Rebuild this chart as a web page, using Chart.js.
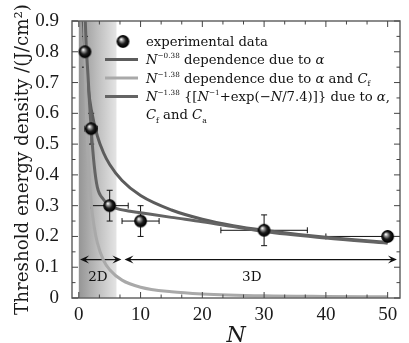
<!DOCTYPE html>
<html>
<head>
<meta charset="utf-8">
<script src="https://cdn.jsdelivr.net/npm/chart.js@4.4.1/dist/chart.umd.min.js"></script>
<style>
  html, body { margin: 0; padding: 0; background: #fff; }
</style>
</head>
<body>
<canvas id="c" width="409" height="343"></canvas>
<script>
// experimental points (N, threshold fluence J/cm2) and their error bars
var expN    = [1, 2, 5, 10, 30, 50];
var expF    = [0.80, 0.55, 0.30, 0.25, 0.22, 0.20];
var expErrN = [0, 1, 3, 3, 7, 10];
var expErrF = [0.05, 0.05, 0.05, 0.05, 0.05, 0];

// N^-0.38 curve
var fitAN = [0.73, 1, 1.5, 2, 3, 4, 5, 7, 10, 15, 20, 25, 30, 40, 50];
var fitAF = [0.90, 0.80, 0.686, 0.614, 0.527, 0.472, 0.434, 0.382, 0.333, 0.286, 0.256, 0.235, 0.220, 0.197, 0.181];

// N^-1.38 curve
var fitBN = [0.92, 1, 1.25, 1.5, 2, 2.5, 3, 4, 5, 7, 10, 15, 20, 30, 40, 50];
var fitBF = [0.90, 0.80, 0.59, 0.46, 0.31, 0.23, 0.18, 0.122, 0.092, 0.058, 0.035, 0.020, 0.013, 0.007, 0.005, 0.004];

// N^-1.38 {[N^-1+exp(-N/7.4)]} curve
var fitCN = [1.0, 1.2, 1.5, 1.75, 2, 2.5, 3, 4, 5, 6.6, 8, 10, 15, 20, 25, 30, 40, 50];
var fitCF = [0.93, 0.82, 0.72, 0.63, 0.55, 0.43, 0.36, 0.32, 0.30, 0.288, 0.283, 0.277, 0.262, 0.248, 0.232, 0.216, 0.195, 0.178];

// axis ticks
var xTickLabels = [0, 10, 20, 30, 40, 50];
var yTickLabels = [0, 0.1, 0.2, 0.3, 0.4, 0.5, 0.6, 0.7, 0.8, 0.9];

// 2D / 3D regions
var band2D = [0, 6.1];
var arrowLevel = 0.125;
var arrows2D = [0.2, 6.9];
var arrows3D = [7.4, 51.5];
var regionText = ['2D', '3D'];
var regionTextN = [3.1, 28];
var regionTextF = 0.068;

var DARK = '#5c5c5c', LIGHT = '#a9a9a9', DARK2 = '#646464';
var SERIF = '"DejaVu Serif", serif';

function toXY(xs, ys) {
  return xs.map(function (x, i) { return {x: x, y: ys[i]}; });
}

function sphereImage(r) {
  var s = Math.ceil(r * 2) + 2;
  var cv = document.createElement('canvas');
  cv.width = s; cv.height = s;
  var g = cv.getContext('2d');
  var c = s / 2;
  var grad = g.createRadialGradient(c - r * 0.3, c - r * 0.35, r * 0.05, c, c, r);
  grad.addColorStop(0, '#ffffff');
  grad.addColorStop(0.22, '#9a9a9a');
  grad.addColorStop(0.55, '#1c1c1c');
  grad.addColorStop(0.9, '#000000');
  grad.addColorStop(1, '#3a3a3a');
  g.fillStyle = grad;
  g.beginPath(); g.arc(c, c, r, 0, Math.PI * 2); g.fill();
  return cv;
}
var sphere = sphereImage(6.5);

function arrowHead(ctx, x, y, dir) {
  var L = 9, W = 4;
  ctx.beginPath();
  ctx.moveTo(x, y);
  ctx.lineTo(x - dir * L, y - W);
  ctx.lineTo(x - dir * L * 0.6, y);
  ctx.lineTo(x - dir * L, y + W);
  ctx.closePath();
  ctx.fill();
}

function drawRich(ctx, segs, x, y, size) {
  segs.forEach(function (s) {
    var f = size, dy = 0;
    if (s.sup) { f = size * 0.55; dy = -size * 0.42; }
    if (s.sub) { f = size * 0.58; dy = size * 0.28; }
    ctx.font = (s.i ? 'italic ' : '') + f + 'px ' + SERIF;
    ctx.fillText(s.t, x, y + dy);
    x += ctx.measureText(s.t).width;
  });
}

var legendLines = [
  [{t: 'experimental data'}],
  [{t: 'N', i: 1}, {t: '\u22120.38', sup: 1}, {t: ' dependence due to '}, {t: '\u03b1', i: 1}],
  [{t: 'N', i: 1}, {t: '\u22121.38', sup: 1}, {t: ' dependence due to '}, {t: '\u03b1', i: 1}, {t: ' and '}, {t: 'C', i: 1}, {t: 'f', sub: 1}],
  [{t: 'N', i: 1}, {t: '\u22121.38', sup: 1}, {t: ' {['}, {t: 'N', i: 1}, {t: '\u22121', sup: 1}, {t: '+exp(\u2212'}, {t: 'N', i: 1}, {t: '/7.4)]} due to '}, {t: '\u03b1', i: 1}, {t: ','}],
  [{t: 'C', i: 1}, {t: 'f', sub: 1}, {t: ' and '}, {t: 'C', i: 1}, {t: 'a', sub: 1}]
];

var decor = {
  id: 'decor',
  beforeDatasetsDraw: function (chart) {
    var ctx = chart.ctx, a = chart.chartArea;
    var xs = chart.scales.x, ys = chart.scales.y;
    ctx.save();
    ctx.beginPath();
    ctx.rect(a.left, a.top, a.right - a.left, a.bottom - a.top);
    ctx.clip();

    // shaded 2D band
    var x0 = xs.getPixelForValue(band2D[0]), x1 = xs.getPixelForValue(band2D[1]);
    var grad = ctx.createLinearGradient(x0, 0, x1, 0);
    grad.addColorStop(0, '#959595');
    grad.addColorStop(0.5, '#bebebe');
    grad.addColorStop(1, '#e4e4e4');
    ctx.fillStyle = grad;
    ctx.fillRect(x0, a.top, x1 - x0, a.bottom - a.top);

    // arrows
    var yA = ys.getPixelForValue(arrowLevel);
    ctx.strokeStyle = '#111';
    ctx.fillStyle = '#111';
    ctx.lineWidth = 1.3;
    [arrows2D, arrows3D].forEach(function (ar) {
      var p0 = xs.getPixelForValue(ar[0]), p1 = xs.getPixelForValue(ar[1]);
      ctx.beginPath();
      ctx.moveTo(p0 + 4, yA); ctx.lineTo(p1 - 4, yA);
      ctx.stroke();
      arrowHead(ctx, p0, yA, -1);
      arrowHead(ctx, p1, yA, 1);
    });
    ctx.font = '13.5px ' + SERIF;
    ctx.textAlign = 'center';
    ctx.textBaseline = 'middle';
    regionText.forEach(function (t, i) {
      ctx.fillText(t, xs.getPixelForValue(regionTextN[i]), ys.getPixelForValue(regionTextF));
    });

    // error bars
    ctx.strokeStyle = '#111';
    ctx.lineWidth = 1;
    expN.forEach(function (n, i) {
      var px = xs.getPixelForValue(n), py = ys.getPixelForValue(expF[i]);
      if (expErrF[i] > 0) {
        var t = ys.getPixelForValue(expF[i] + expErrF[i]), b = ys.getPixelForValue(expF[i] - expErrF[i]);
        ctx.beginPath();
        ctx.moveTo(px, t); ctx.lineTo(px, b);
        ctx.moveTo(px - 3, t); ctx.lineTo(px + 3, t);
        ctx.moveTo(px - 3, b); ctx.lineTo(px + 3, b);
        ctx.stroke();
      }
      if (expErrN[i] > 0) {
        var l = xs.getPixelForValue(n - expErrN[i]), r = xs.getPixelForValue(n + expErrN[i]);
        ctx.beginPath();
        ctx.moveTo(l, py); ctx.lineTo(r, py);
        ctx.moveTo(l, py - 3); ctx.lineTo(l, py + 3);
        ctx.moveTo(r, py - 3); ctx.lineTo(r, py + 3);
        ctx.stroke();
      }
    });
    ctx.restore();
  },
  afterDatasetsDraw: function (chart) {
    var ctx = chart.ctx, a = chart.chartArea;
    ctx.save();
    // legend
    var lx = a.left + 33, tx = a.left + 74;
    var base = [a.top + 25, a.top + 43, a.top + 61.5, a.top + 80, a.top + 98];
    ctx.drawImage(sphere, a.left + 51 - sphere.width / 2, base[0] - 4.5 - sphere.height / 2);
    [DARK, LIGHT, DARK2].forEach(function (c, i) {
      ctx.strokeStyle = c;
      ctx.lineWidth = 3;
      ctx.beginPath();
      ctx.moveTo(lx, base[i + 1] - 4.5);
      ctx.lineTo(lx + 33, base[i + 1] - 4.5);
      ctx.stroke();
    });
    ctx.fillStyle = '#111';
    ctx.textBaseline = 'alphabetic';
    ctx.textAlign = 'left';
    legendLines.forEach(function (segs, i) {
      drawRich(ctx, segs, tx, base[i], 13.2);
    });

    // frame and inward ticks
    var xs = chart.scales.x, ys = chart.scales.y;
    ctx.strokeStyle = '#666';
    ctx.lineWidth = 1.5;
    ctx.strokeRect(a.left, a.top, a.right - a.left, a.bottom - a.top);
    ctx.strokeStyle = '#444';
    ctx.lineWidth = 1;
    ctx.beginPath();
    xTickLabels.forEach(function (v) {
      for (var k = 0; k < 3; k++) {
        var val = v + k * (10 / 3);
        if (val > xs.max) break;
        var px = xs.getPixelForValue(val), len = k === 0 ? 6 : 3.5;
        ctx.moveTo(px, a.bottom); ctx.lineTo(px, a.bottom - len);
        ctx.moveTo(px, a.top); ctx.lineTo(px, a.top + len);
      }
    });
    yTickLabels.forEach(function (v) {
      for (var k = 0; k < 2; k++) {
        var val = v + k * 0.05;
        if (val > ys.max + 1e-9) break;
        var py = ys.getPixelForValue(val), len = k === 0 ? 6 : 3.5;
        ctx.moveTo(a.left, py); ctx.lineTo(a.left + len, py);
        ctx.moveTo(a.right, py); ctx.lineTo(a.right - len, py);
      }
    });
    ctx.stroke();
    ctx.restore();
  }
};

function curve(label, xs, ys, color, order) {
  return {
    label: label,
    data: toXY(xs, ys),
    showLine: true,
    borderColor: color,
    borderWidth: 3,
    pointRadius: 0,
    cubicInterpolationMode: 'monotone',
    order: order
  };
}

new Chart(document.getElementById('c'), {
  type: 'scatter',
  data: {
    datasets: [
      {
        label: 'experimental data',
        data: toXY(expN, expF),
        pointStyle: sphere,
        order: 0
      },
      curve('N^-0.38', fitAN, fitAF, DARK, 3),
      curve('N^-1.38', fitBN, fitBF, LIGHT, 2),
      curve('N^-1.38 exp', fitCN, fitCF, DARK2, 1)
    ]
  },
  options: {
    responsive: false,
    animation: false,
    devicePixelRatio: 1,
    layout: {padding: {top: 21, right: 9, left: 0, bottom: 0}},
    plugins: {legend: {display: false}, tooltip: {enabled: false}},
    scales: {
      x: {
        type: 'linear',
        min: -1.1,
        max: 52,
        afterBuildTicks: function (s) { s.ticks = xTickLabels.map(function (v) { return {value: v}; }); },
        afterFit: function (s) { s.height = 45; },
        grid: {display: false},
        border: {display: false},
        ticks: {
          color: '#1a1a1a',
          font: {family: '"Liberation Serif", serif', size: 19, lineHeight: 0.9},
          padding: 0,
          maxRotation: 0,
          autoSkip: false
        },
        title: {
          display: true,
          text: 'N',
          color: '#1a1a1a',
          font: {family: SERIF, size: 22, style: 'italic', lineHeight: 0.6},
          padding: 0
        }
      },
      y: {
        min: 0,
        max: 0.9,
        afterBuildTicks: function (s) { s.ticks = yTickLabels.map(function (v) { return {value: v}; }); },
        afterFit: function (s) { s.width = 72; },
        grid: {display: false},
        border: {display: false},
        ticks: {
          color: '#1a1a1a',
          font: {family: '"Liberation Serif", serif', size: 19},
          padding: 5,
          callback: function (v) { return v === 0 ? '0' : v.toFixed(1); }
        },
        title: {
          display: true,
          text: 'Threshold energy density /(J/cm\u00b2)',
          color: '#1a1a1a',
          font: {family: SERIF, size: 18.3},
          padding: {top: 12, bottom: 0}
        }
      }
    }
  },
  plugins: [decor]
});
</script>
</body>
</html>
